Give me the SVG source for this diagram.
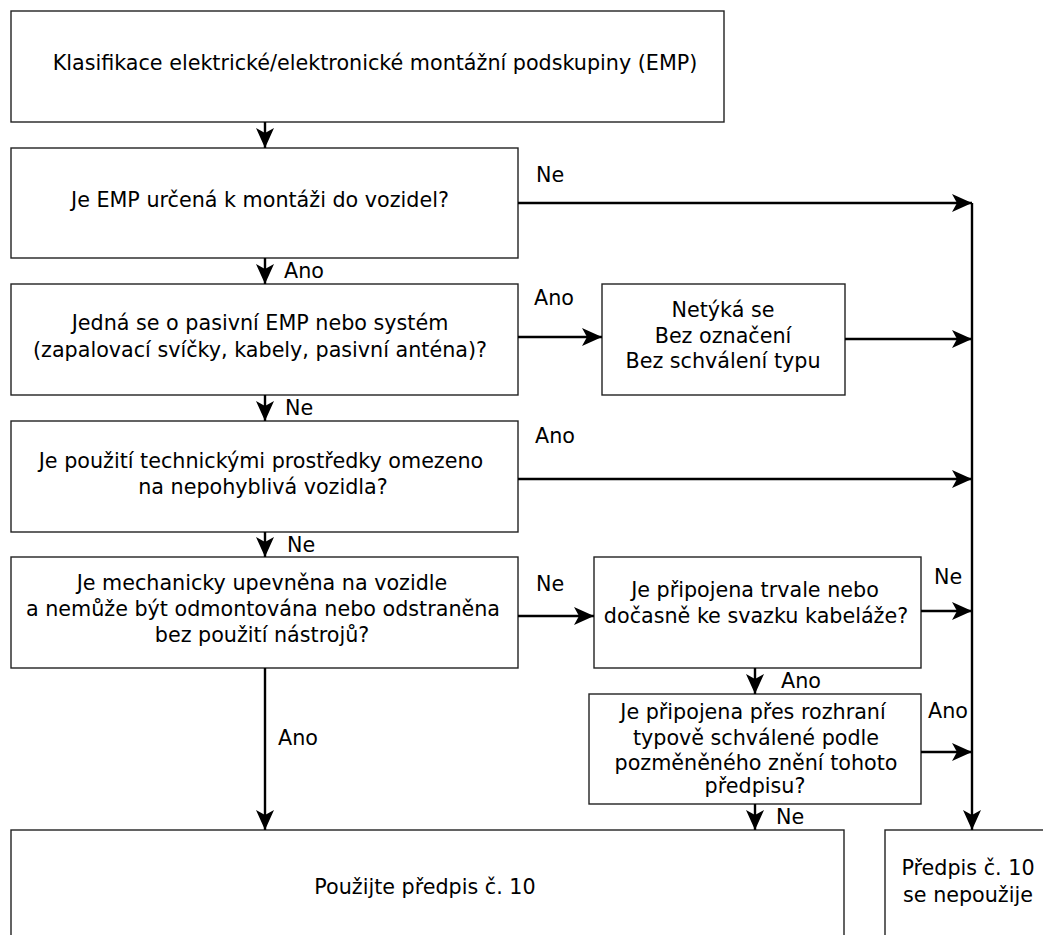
<svg xmlns="http://www.w3.org/2000/svg" width="1043" height="935" viewBox="0 0 1043 935">
<defs>
<style>
.box{fill:#fff;stroke:#222;stroke-width:1.4}
.t{font-family:"DejaVu Sans","Liberation Sans",sans-serif;font-size:20.7px;fill:#000;text-anchor:middle}
.lb{font-family:"DejaVu Sans","Liberation Sans",sans-serif;font-size:20.7px;fill:#000}
.c{fill:none;stroke:#000;stroke-width:2.4}
</style>
<marker id="ah" viewBox="0 0 20 18" refX="20" refY="9" markerWidth="20" markerHeight="18" markerUnits="userSpaceOnUse" orient="auto">
<path d="M0,0 L20,9 L0,18 L5,9 Z" fill="#000"/>
</marker>
</defs>
<rect width="1043" height="935" fill="#fff"/>
<g id="n1"><rect class="box" x="11" y="11" width="713" height="111"/><text class="t" x="375" y="70">Klasifikace elektrické/elektronické montážní podskupiny (EMP)</text></g>
<g id="n2"><rect class="box" x="11" y="148" width="507" height="110"/><text class="t" x="260" y="207">Je EMP určená k montáži do vozidel?</text></g>
<g id="n3"><rect class="box" x="11" y="284" width="507" height="111"/><text class="t" x="260" y="330">Jedná se o pasivní EMP nebo systém</text><text class="t" x="260" y="357">(zapalovací svíčky, kabely, pasivní anténa)?</text></g>
<g id="n4"><rect class="box" x="11" y="421" width="507" height="111"/><text class="t" x="261" y="468">Je použití technickými prostředky omezeno</text><text class="t" x="263" y="494">na nepohyblivá vozidla?</text></g>
<g id="n5"><rect class="box" x="11" y="557" width="507" height="111"/><text class="t" x="262" y="590">Je mechanicky upevněna na vozidle</text><text class="t" x="263" y="616">a nemůže být odmontována nebo odstraněna</text><text class="t" x="262" y="642">bez použití nástrojů?</text></g>
<g id="n6"><rect class="box" x="602" y="284" width="243" height="111"/><text class="t" x="723" y="317">Netýká se</text><text class="t" x="723" y="343">Bez označení</text><text class="t" x="723" y="368">Bez schválení typu</text></g>
<g id="n7"><rect class="box" x="594" y="557" width="327" height="111"/><text class="t" x="755" y="597">Je připojena trvale nebo</text><text class="t" x="756" y="623">dočasně ke svazku kabeláže?</text></g>
<g id="n8"><rect class="box" x="589" y="694" width="332" height="110"/><text class="t" x="753" y="719">Je připojena přes rozhraní</text><text class="t" x="756" y="745">typově schválené podle</text><text class="t" x="756" y="770">pozměněného znění tohoto</text><text class="t" x="755" y="793">předpisu?</text></g>
<g id="n9"><rect class="box" x="11" y="830" width="833" height="115"/><text class="t" x="425" y="894">Použijte předpis č. 10</text></g>
<g id="n10"><rect class="box" x="885" y="830" width="166" height="115"/><text class="t" x="968" y="875">Předpis č. 10</text><text class="t" x="968" y="902">se nepoužije</text></g>
<g id="connectors">
<path class="c" d="M265,122 V148" marker-end="url(#ah)"/>
<path class="c" d="M265,258 V284" marker-end="url(#ah)"/>
<path class="c" d="M265,395 V421" marker-end="url(#ah)"/>
<path class="c" d="M265,532 V557" marker-end="url(#ah)"/>
<path class="c" d="M265,668 V830" marker-end="url(#ah)"/>
<path class="c" d="M518,203 H972" marker-end="url(#ah)"/>
<path class="c" d="M518,337 H602" marker-end="url(#ah)"/>
<path class="c" d="M845,339 H972" marker-end="url(#ah)"/>
<path class="c" d="M518,479 H972" marker-end="url(#ah)"/>
<path class="c" d="M518,616 H594" marker-end="url(#ah)"/>
<path class="c" d="M921,611 H972" marker-end="url(#ah)"/>
<path class="c" d="M755,668 V694" marker-end="url(#ah)"/>
<path class="c" d="M921,752 H972" marker-end="url(#ah)"/>
<path class="c" d="M755,804 V830" marker-end="url(#ah)"/>
<path class="c" d="M972,203 V830" marker-end="url(#ah)"/>
<text class="lb" x="284" y="278">Ano</text>
<text class="lb" x="285" y="415">Ne</text>
<text class="lb" x="287" y="552">Ne</text>
<text class="lb" x="278" y="745">Ano</text>
<text class="lb" x="536" y="182">Ne</text>
<text class="lb" x="534" y="305">Ano</text>
<text class="lb" x="535" y="443">Ano</text>
<text class="lb" x="536" y="591">Ne</text>
<text class="lb" x="934" y="584">Ne</text>
<text class="lb" x="781" y="688">Ano</text>
<text class="lb" x="928" y="718">Ano</text>
<text class="lb" x="776" y="824">Ne</text>
</g>
</svg>
